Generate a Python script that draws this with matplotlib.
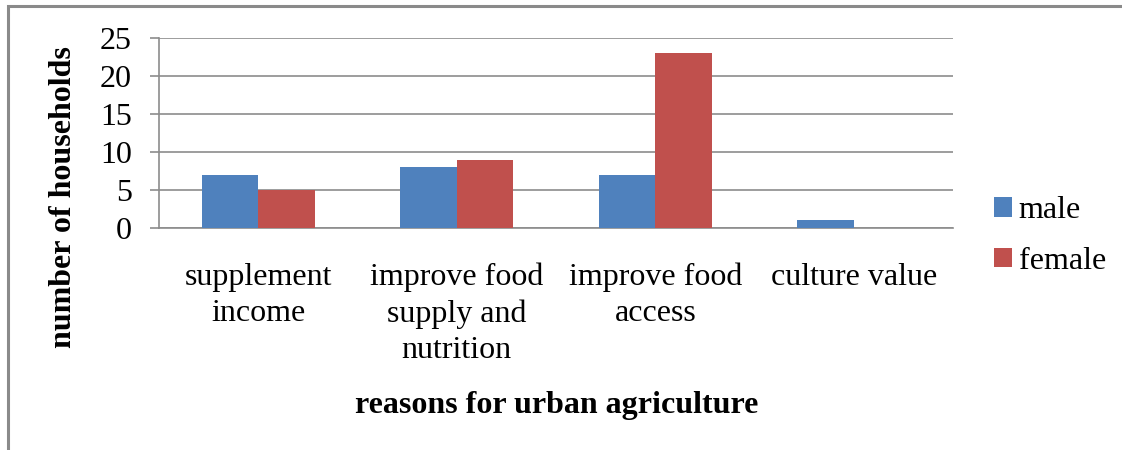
import numpy as np
import matplotlib.pyplot as plt
from matplotlib.patches import Rectangle

plt.rcParams['font.family'] = ['Liberation Serif', 'DejaVu Serif']

# Reasons for urban agriculture, by sex of household head
categories = ["supplement\nincome", "improve food\nsupply and\nnutrition",
              "improve food\naccess", "culture value"]
male = [7, 8, 7, 1]
female = [5, 9, 23, 0]

blue = "#4F81BD"
red = "#C0504D"
grid_gray = "#8c8c8c"

W, H = 1122, 450
fig = plt.figure(figsize=(W / 100, H / 100), dpi=100)
ax = fig.add_axes([0.1417, 0.4933, 0.7077, 0.4222])

x = np.arange(len(categories))
w = 1 / 3.5  # gap width 150%
ax.bar(x - w / 2, male, w, color=blue, label="male", zorder=3)
ax.bar(x + w / 2, female, w, color=red, label="female", zorder=3)

ax.set_xlim(-0.5, len(categories) - 0.5)
ax.set_ylim(0, 25)
ax.set_yticks(range(0, 26, 5))
ax.yaxis.grid(True, color=grid_gray, linewidth=1.2, zorder=0)

for side in ["top", "right"]:
    ax.spines[side].set_visible(False)
ax.spines["left"].set_color(grid_gray)
ax.spines["bottom"].set_color(grid_gray)
ax.spines["left"].set_linewidth(1.2)
ax.spines["bottom"].set_linewidth(1.2)

ax.tick_params(axis="y", direction="out", length=6.5, width=1.2,
               color=grid_gray, labelsize=23, pad=13)
ax.set_xticks(x)
ax.set_xticklabels(categories, fontsize=23, linespacing=1.32)
ax.tick_params(axis="x", length=0, pad=25)

# axis titles
fig.text(64 / W, 1 - 197 / H, "number of households", fontsize=23,
         fontweight="bold", rotation=90, ha="center", va="center")
fig.text(557 / W, 1 - 406 / H, "reasons for urban agriculture", fontsize=23,
         fontweight="bold", ha="center", va="center")

ax.legend(loc="center left", bbox_to_anchor=(994 / W, 1 - 236 / H),
          bbox_transform=fig.transFigure, frameon=False, borderaxespad=0,
          borderpad=0, fontsize=23, handlelength=0.55, handleheight=0.55,
          handletextpad=0.22, labelspacing=0.67)

# outer chart border
fig.patches.append(Rectangle((8 / W, -0.1), 1.2, 1.1 - 6 / H,
                             transform=fig.transFigure, fill=False,
                             edgecolor="#8a8a8a", linewidth=2.2, clip_on=False))

fig.savefig("out.png", dpi=100)
